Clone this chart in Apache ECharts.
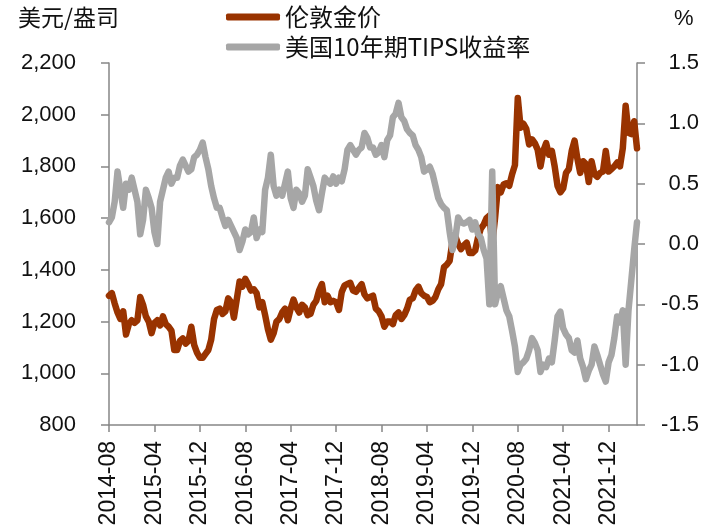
<!DOCTYPE html>
<html>
<head>
<meta charset="utf-8">
<script src="https://cdn.jsdelivr.net/npm/echarts@6/dist/echarts.min.js"></script>
<style>
html,body{margin:0;padding:0;background:#fff;}
#chart{width:710px;height:532px;}
</style>
</head>
<body>
<div id="chart"></div>
<script>
// Semi-monthly observations (1st and 16th of each month), 2014-08-01 .. 2022-05-01
var startYear = 2014, startMonth = 8, pointCount = 187;
var dates = [];
for (var i = 0; i < pointCount; i++) {
  var m = startMonth - 1 + Math.floor(i / 2);
  var y = startYear + Math.floor(m / 12);
  var mm = (m % 12) + 1;
  dates.push(y + '-' + (mm < 10 ? '0' + mm : mm) + '-' + (i % 2 === 0 ? '01' : '16'));
}

// London gold price, USD/oz
var goldPrice = [
  1300,1310, 1270,1235, 1210,1240, 1150,1190, 1205,1195,
  1205,1295, 1265,1220, 1200,1155, 1195,1205, 1185,1220, 1190,1180, 1165,1090, 1090,1125, 1135,1115, 1125,1180, 1110,1080, 1060,1060,
  1075,1090, 1130,1210, 1245,1250, 1230,1240, 1290,1275, 1215,1285, 1355,1335, 1365,1345, 1320,1325, 1310,1255, 1275,1225, 1170,1130,
  1155,1200, 1210,1235, 1250,1205, 1250,1285, 1255,1235, 1265,1255, 1225,1230, 1265,1280, 1320,1345, 1275,1300, 1275,1280, 1275,1245,
  1315,1340, 1345,1350, 1320,1315, 1330,1345, 1305,1290, 1295,1300, 1250,1240, 1220,1180, 1200,1200, 1190,1225, 1235,1210, 1225,1250,
  1285,1290, 1320,1335, 1310,1300, 1295,1275, 1280,1295, 1325,1345, 1410,1420, 1435,1510, 1530,1500, 1480,1495, 1505,1465, 1465,1475,
  1525,1560, 1575,1600, 1610,1500, 1600,1720, 1700,1730, 1735,1725, 1770,1805, 2065,1950, 1965,1945, 1885,1905, 1890,1865, 1800,1860,
  1890,1845, 1860,1800, 1725,1700, 1715,1775, 1790,1860, 1900,1830, 1775,1820, 1810,1740, 1820,1770, 1760,1775, 1780,1860, 1780,1790,
  1800,1815, 1800,1870, 2035,1930, 1925,1975, 1870
];

// US 10-year TIPS yield, %
var tipsYield = [
  0.18,0.22, 0.35,0.60, 0.45,0.30, 0.50,0.45, 0.55,0.45,
  0.35,0.08, 0.20,0.45, 0.38,0.30, 0.10,0.00, 0.35,0.45, 0.55,0.60, 0.50,0.55, 0.55,0.65, 0.70,0.65, 0.60,0.62, 0.72,0.74, 0.78,0.84,
  0.72,0.62, 0.48,0.38, 0.30,0.30, 0.22,0.15, 0.20,0.15, 0.10,0.05, -0.05,0.02, 0.12,0.08, 0.10,0.22, 0.05,0.12, 0.10,0.45, 0.55,0.74,
  0.48,0.40, 0.45,0.40, 0.50,0.60, 0.38,0.30, 0.45,0.42, 0.35,0.40, 0.62,0.55, 0.48,0.36, 0.28,0.42, 0.55,0.52, 0.50,0.56, 0.50,0.55,
  0.52,0.62, 0.78,0.82, 0.78,0.74, 0.78,0.80, 0.92,0.88, 0.80,0.80, 0.74,0.76, 0.82,0.72, 0.86,0.90, 1.05,1.08, 1.17,1.05, 1.02,0.95,
  0.92,0.90, 0.82,0.78, 0.72,0.60, 0.62,0.64, 0.58,0.48, 0.38,0.33, 0.30,0.28, 0.10,-0.05, 0.05,0.22, 0.18,0.17, 0.18,0.20, 0.12,0.18,
  0.08,0.05, -0.05,-0.12, -0.50,0.60, -0.50,-0.40, -0.35,-0.45, -0.55,-0.60, -0.72,-0.85, -1.06,-1.00, -0.98,-0.95, -0.88,-0.78, -0.82,-0.88, -1.06,-1.00,
  -1.02,-0.95, -0.98,-0.80, -0.60,-0.56, -0.70,-0.75, -0.78,-0.88, -0.90,-0.80, -0.95,-1.02, -1.12,-1.05, -1.00,-0.85, -0.92,-1.00, -1.08,-1.14, -0.98,-0.92,
  -0.78,-0.60, -0.65,-0.55, -1.00,-0.55, -0.30,-0.05, 0.18
];

var seriesNames = ['伦敦金价', '美国10年期TIPS收益率'];
var leftUnit = '美元/盎司';
var rightUnit = '%';

var latin = 'Liberation Sans';
var cjk = '"Noto Sans CJK SC", "Liberation Sans", sans-serif';
var axisColor = '#868686';
var textColor = '#111';

var chart = echarts.init(document.getElementById('chart'));
chart.setOption({
  animation: false,
  backgroundColor: '#fff',
  grid: { left: 109, right: 73, top: 63, bottom: 107, containLabel: false },
  legend: {
    orient: 'vertical',
    left: 226, top: 3,
    padding: 0,
    itemGap: 2,
    itemWidth: 54, itemHeight: 7,
    icon: 'roundRect',
    textStyle: { fontFamily: cjk, fontSize: 24, color: textColor, lineHeight: 28 },
    data: seriesNames
  },
  graphic: [
    { type: 'text', left: 18, top: 6, style: { text: leftUnit, font: '23px ' + cjk, fill: textColor } },
    { type: 'text', left: 674, top: 8, style: { text: rightUnit, font: '22px ' + latin, fill: textColor } }
  ],
  xAxis: {
    type: 'category',
    data: dates,
    boundaryGap: false,
    axisLine: { onZero: false, lineStyle: { color: axisColor, width: 1.5 } },
    axisTick: { interval: 15, length: 7, lineStyle: { color: axisColor, width: 1.5 } },
    axisLabel: {
      interval: 15, rotate: 90, margin: 16,
      fontFamily: latin, fontSize: 23, color: textColor,
      formatter: function (v) { return v.slice(0, 7); }
    },
    splitLine: { show: false }
  },
  yAxis: [
    {
      type: 'value', min: 800, max: 2200, interval: 200, position: 'left',
      axisLine: { show: true, lineStyle: { color: axisColor, width: 1.5 } },
      axisTick: { show: true, length: 8, lineStyle: { color: axisColor, width: 1.5 } },
      axisLabel: {
        margin: 33, fontFamily: latin, fontSize: 22, color: textColor,
        formatter: function (v) { return v.toLocaleString('en-US'); }
      },
      splitLine: { show: false }
    },
    {
      type: 'value', min: -1.5, max: 1.5, interval: 0.5, position: 'right',
      axisLine: { show: true, lineStyle: { color: axisColor, width: 1.5 } },
      axisTick: { show: true, length: 8, lineStyle: { color: axisColor, width: 1.5 } },
      axisLabel: {
        margin: 62, align: 'right', fontFamily: latin, fontSize: 22, color: textColor,
        formatter: function (v) { return v.toFixed(1); }
      },
      splitLine: { show: false }
    }
  ],
  series: [
    {
      name: seriesNames[0], type: 'line', yAxisIndex: 0, data: goldPrice,
      color: '#993300', showSymbol: false, symbol: 'none',
      lineStyle: { width: 6.5, color: '#993300', join: 'round', cap: 'round' },
      z: 2
    },
    {
      name: seriesNames[1], type: 'line', yAxisIndex: 1, data: tipsYield,
      color: '#A6A6A6', showSymbol: false, symbol: 'none',
      lineStyle: { width: 6.5, color: '#A6A6A6', join: 'round', cap: 'round' },
      z: 3
    }
  ]
});
</script>
</body>
</html>
